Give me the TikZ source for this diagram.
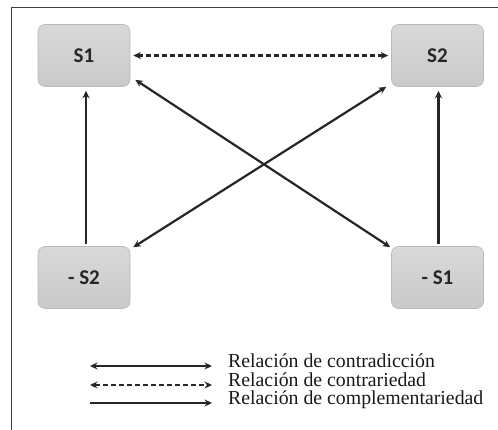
\documentclass[tikz,border=0pt]{standalone}
\usepackage{fontspec}
\setmainfont{Liberation Serif}
\newfontfamily\boxfont{Carlito}
\usetikzlibrary{arrows.meta}
\begin{document}
\begin{tikzpicture}[x=1pt,y=-1pt,
  sbox/.style={draw=gray!55, line width=0.6pt, rounded corners=7pt, top color=gray!30, bottom color=gray!42,
    minimum width=92pt, minimum height=62pt, inner sep=0pt,
    font=\boxfont\bfseries\fontsize{21}{23}\selectfont, text=black!85},
  conn/.style={line width=2.2pt, black!85, -{Stealth[length=7.5pt,width=7pt]}},
  bconn/.style={conn, {Stealth[length=7.5pt,width=7pt]}-{Stealth[length=7.5pt,width=7pt]}},
  dconn/.style={bconn, dash pattern=on 5pt off 3pt},
  legtext/.style={anchor=base west, inner sep=0pt, text height=13pt, text depth=3pt,
    font=\fontsize{19.8}{21}\selectfont, text=black!90},
  frame/.style={draw=black!75, line width=1pt}]
\useasboundingbox (0,0) rectangle (498,430);
\draw[frame] (11,430) -- (11,8) -- (498,8);
\node[sbox] (S1) at (84,55.5) {S1};
\node[sbox] (S2) at (437.5,55.5) {S2};
\node[sbox] (mS2) at (84,277.5) {- S2};
\node[sbox] (mS1) at (437.5,277.5) {- S1};
\draw[dconn] ([xshift=3]S1.east) -- ([xshift=-3]S2.west);
\draw[conn] ([shift={(2,-2)}]mS2.north) -- ([shift={(2,4)}]S1.south);
\draw[conn] ([shift={(1,-2)}]mS1.north) -- ([shift={(1,4)}]S2.south);
\draw[bconn] ([shift={(5,-7)}]S1.south east) -- ([shift={(-1,1)}]mS1.north west);
\draw[bconn] ([shift={(3,1)}]mS2.north east) -- ([shift={(-5,0)}]S2.south west);
\coordinate (a1) at (90,366); \coordinate (b1) at (212,366);
\coordinate (a2) at (90,385); \coordinate (b2) at (212,385);
\coordinate (a3) at (90,403); \coordinate (b3) at (212,403);
\draw[bconn] (a1) -- (b1);
\draw[dconn] (a2) -- (b2);
\draw[conn] (a3) -- (b3);
\node[legtext] (t1) at (228,367) {Relación de contradicción};
\node[legtext] (t2) at (228,386) {Relación de contrariedad};
\node[legtext] (t3) at (228,404) {Relación de complementariedad};
\end{tikzpicture}
\end{document}
